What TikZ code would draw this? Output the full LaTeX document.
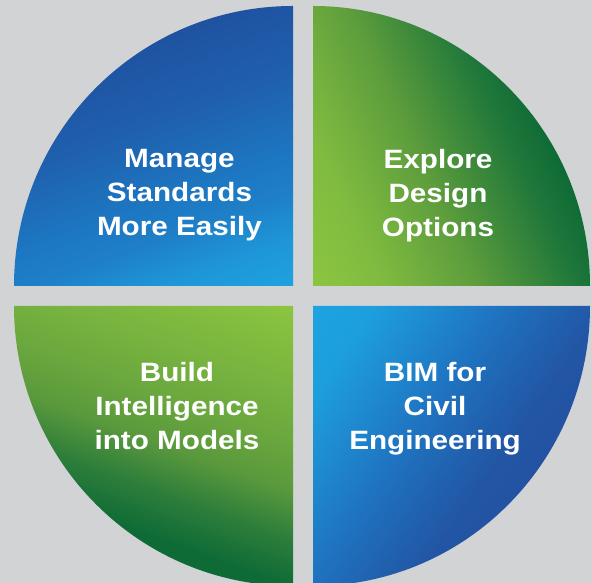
\documentclass[tikz,border=0pt]{standalone}
\usepackage{fontspec}
\newfontfamily\quadfont{Liberation Sans}[FakeStretch=1.12]
\definecolor{bg}{HTML}{D2D3D5}
% top-left (blue)
\definecolor{tla}{HTML}{1EA2E0}\definecolor{tlb}{HTML}{1E96D8}\definecolor{tlc}{HTML}{1E7FC7}
\definecolor{tld}{HTML}{1D77C2}\definecolor{tle}{HTML}{1F5FAC}\definecolor{tlf}{HTML}{1F54A3}
\definecolor{tlg}{HTML}{1F4F9F}
% top-right (green)
\definecolor{tra}{HTML}{8CC540}\definecolor{trb}{HTML}{7FBB40}\definecolor{trc}{HTML}{5D9D3C}
\definecolor{trd}{HTML}{1F773A}\definecolor{tre}{HTML}{0D6A35}
% bottom-left (green)
\definecolor{bla}{HTML}{8CC540}\definecolor{blb}{HTML}{7AB63F}\definecolor{blc}{HTML}{6AA73E}
\definecolor{bld}{HTML}{5A993C}\definecolor{ble}{HTML}{2E7E3B}\definecolor{blf}{HTML}{0F6B36}
% bottom-right (blue)
\definecolor{bra}{HTML}{1EA2E0}\definecolor{brb}{HTML}{1D9FDD}\definecolor{brc}{HTML}{1F73C0}
\definecolor{brd}{HTML}{2060AD}\definecolor{bre}{HTML}{2256A5}\definecolor{brf}{HTML}{2352A2}
\pgfdeclareverticalshading{tlshade}{100bp}{color(0bp)=(tla); color(50bp)=(tla); color(53.75bp)=(tlb); color(57.5bp)=(tlc); color(60.42bp)=(tld); color(67.08bp)=(tle); color(72.5bp)=(tlf); color(75bp)=(tlg); color(100bp)=(tlg)}
\pgfdeclareverticalshading{trshade}{100bp}{color(0bp)=(tra); color(50bp)=(tra); color(55.5bp)=(trb); color(62.5bp)=(trc); color(70bp)=(trd); color(73.33bp)=(tre); color(100bp)=(tre)}
\pgfdeclareverticalshading{blshade}{100bp}{color(0bp)=(bla); color(50bp)=(bla); color(55.83bp)=(blb); color(60.83bp)=(blc); color(64.58bp)=(bld); color(68.33bp)=(ble); color(72.08bp)=(blf); color(100bp)=(blf)}
\pgfdeclareverticalshading{brshade}{100bp}{color(0bp)=(bra); color(50bp)=(bra); color(54.17bp)=(brb); color(62.92bp)=(brc); color(67.5bp)=(brd); color(70bp)=(bre); color(73.33bp)=(brf); color(100bp)=(brf)}
\begin{document}
\begin{tikzpicture}[x=1pt,y=1pt,
  label/.style={text=white, align=center, anchor=north, inner sep=0pt,
    font={\quadfont\bfseries\fontsize{26.5}{34}\selectfont}}]
\useasboundingbox (0,0) rectangle (592,583);
\fill[bg] (0,0) rectangle (592,583);
% top-left quadrant
\begin{scope}
  \clip (293,297) -- (14,297) arc[start angle=180, end angle=90, x radius=279, y radius=280] -- cycle;
  \shade[shading=tlshade, shading angle=20] (-7,-3) rectangle (593,597);
\end{scope}
% top-right quadrant
\begin{scope}
  \clip (313,297) -- (313,577) arc[start angle=90, end angle=0, x radius=277, y radius=280] -- cycle;
  \shade[shading=trshade, shading angle=-65] (13,-3) rectangle (613,597);
\end{scope}
% bottom-left quadrant
\begin{scope}
  \clip (293,277) -- (293,-3) arc[start angle=270, end angle=180, x radius=279, y radius=280] -- cycle;
  \shade[shading=blshade, shading angle=160] (-7,-23) rectangle (593,577);
\end{scope}
% bottom-right quadrant
\begin{scope}
  \clip (313,277) -- (590,277) arc[start angle=0, end angle=-90, x radius=277, y radius=280] -- cycle;
  \shade[shading=brshade, shading angle=-125] (13,-23) rectangle (613,577);
\end{scope}
\node[label] (tl) at (179.5,434) {Manage\\Standards\\More Easily};
\node[label] (tr) at (438,434) {Explore\\Design\\Options};
\node[label] (bl) at (177,220.5) {Build\\Intelligence\\into Models};
\node[label] (br) at (435,220.5) {BIM for\\Civil\\Engineering};
\end{tikzpicture}
\end{document}
